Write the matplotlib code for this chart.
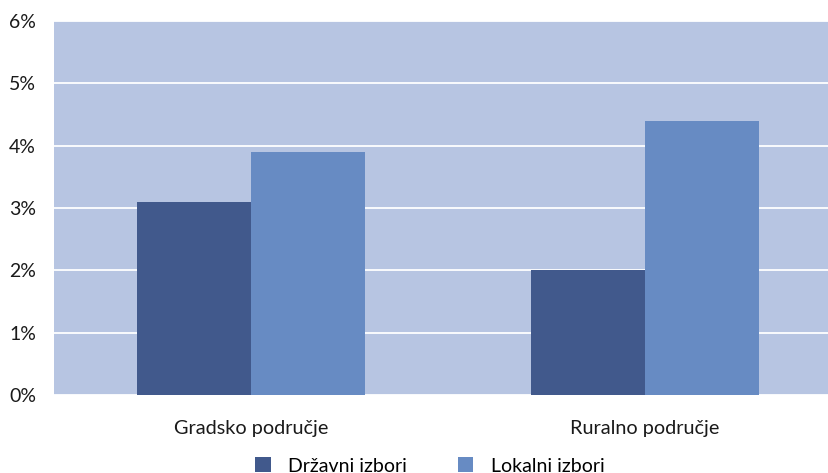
import numpy as np
import matplotlib

matplotlib.use("Agg")

import matplotlib.pyplot as plt
from matplotlib.ticker import FuncFormatter, MultipleLocator
from matplotlib.patches import Patch

categories = ["Gradsko područje", "Ruralno područje"]
series_names = ["Državni izbori", "Lokalni izbori"]
drzavni = [3.1, 2.0]
lokalni = [3.9, 4.4]
colors = ["#41598c", "#678bc3"]


def main() -> None:
    plt.rcParams["font.family"] = ["Lato", "DejaVu Sans"]

    fig = plt.figure(figsize=(8.29, 4.73), dpi=100)
    # plot area runs a little past the right edge of the image, as in the original
    ax = fig.add_axes([54 / 829, 78 / 473, 788 / 829, 374 / 473])
    ax.set_facecolor("#b7c5e2")

    x = np.arange(len(categories))
    width = 0.289
    ax.bar(x - width / 2, drzavni, width, color=colors[0], zorder=3)
    ax.bar(x + width / 2, lokalni, width, color=colors[1], zorder=3)

    ax.set_xlim(-0.5, 1.5)
    ax.set_ylim(0, 6)
    ax.yaxis.set_major_locator(MultipleLocator(1))
    ax.yaxis.set_major_formatter(FuncFormatter(lambda v, _: f"{v:.0f}%"))
    ax.grid(axis="y", color="white", linewidth=1.3, zorder=1)
    ax.set_axisbelow(True)

    for side in ax.spines.values():
        side.set_visible(False)
    ax.tick_params(axis="both", length=0, labelsize=14.3, colors="#1a1a1a")
    ax.tick_params(axis="y", pad=13, labelsize=14)
    ax.tick_params(axis="x", pad=18)
    ax.set_xticks(x)
    ax.set_xticklabels(categories)

    handles = [Patch(facecolor=c, edgecolor="none") for c in colors]
    fig.legend(
        handles,
        series_names,
        loc="center",
        bbox_to_anchor=(430 / 829, 1 - 466 / 473),
        ncol=2,
        frameon=False,
        fontsize=14,
        handlelength=0.8,
        handleheight=0.8,
        handletextpad=0.9,
        columnspacing=2.6,
        borderpad=0,
    )

    fig.savefig("out.png", dpi=100)
    plt.close(fig)


if __name__ == "__main__":
    main()
